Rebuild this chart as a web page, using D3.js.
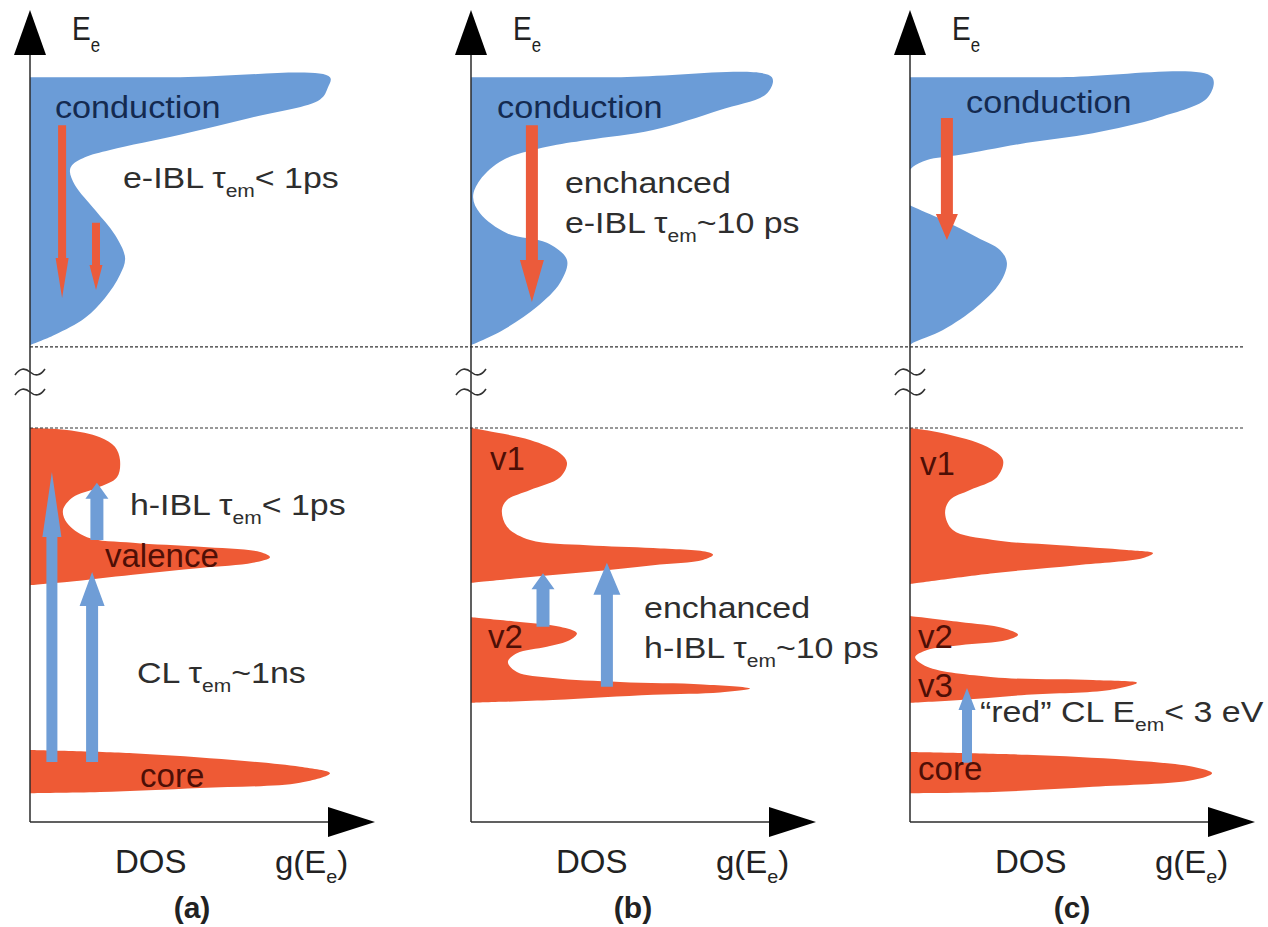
<!DOCTYPE html>
<html>
<head>
<meta charset="utf-8">
<script src="https://cdn.jsdelivr.net/npm/d3@7"></script>
<style>
  html, body { margin: 0; padding: 0; background: #fff; }
  svg { display: block; }
  text { font-family: "Liberation Sans", Arial, sans-serif; }
</style>
</head>
<body>
<div id="chart"></div>
<script>
// ---------------- DATA (g = DOS units, E = energy units) ----------------
const panels = ["a", "b", "c"];
const panelTitles = ["(a)", "(b)", "(c)"];
const axisLabelY = "E_{e}";
const axisLabelX = "g(E_{e})";
const axisNameX = "DOS";

// panel (a)
const condA = [[0,93.1],[50,93.1],[100,93.1],[99.3,91.8],[96.7,90.3],[73.3,88],[50,85.9],[26.7,84],[18.3,83.1],[14,82.1],[13.3,81.3],[15,79.6],[21.7,76.5],[28.3,73.4],[31.7,70.5],[30,68.4],[25,65.5],[18.3,63],[8.3,60.9],[0,59.6]];
const valA  = [[0,49.25],[12.3,49],[23.3,48.1],[28.3,46.9],[30,45.25],[29,43.1],[22.3,41.75],[14.3,40.6],[11,39],[12.3,37.4],[19,35.6],[34.3,34.9],[56.7,34.4],[76.7,33.75],[80,33.1],[74.3,32.4],[56.7,31.75],[34.3,30.9],[12.3,30],[0,29.6]];
const coreA = [[0,9],[34.3,8.6],[67.7,7.75],[90,6.9],[100,6.1],[90,4.9],[56.7,4.25],[23.3,3.75],[0,3.6]];

// panel (b)
const condB = [[0,93.1],[50,93.1],[100.3,93.1],[98.7,91.1],[83,89],[60.7,86.5],[38.7,85.25],[25.3,84.4],[10.7,82.75],[3,80.25],[0.7,78.1],[3,76.1],[12,73.6],[25.3,72.4],[32,70.25],[29.7,67.4],[22,64.4],[10.7,61.5],[0,59.6]];
const v1B   = [[0,49.25],[5.3,48.9],[19.7,47.75],[29.7,46.1],[32,44.9],[29.7,43.1],[19.7,41.5],[12,40.25],[10.3,39],[12,36.9],[19.7,35.25],[38.7,34.6],[60.7,34.25],[78.7,33.75],[80.7,33.4],[77.3,32.75],[60.7,32.1],[38.7,31.25],[16.3,30.5],[0,29.9]];
const v2B   = [[0,25.6],[16.3,25],[29.7,24.4],[35.3,23.6],[33,22.75],[25.3,21.9],[15.3,21.1],[12.3,20],[15.3,18.75],[27.3,18],[49.7,17.5],[77.3,17.2],[93,16.7],[83,16.2],[60.7,15.9],[27.3,15.25],[0,14.9]];

// panel (c)
const condC1 = [[0,93.1],[50,93.1],[100.7,93.1],[99.3,90.6],[83.3,88.1],[61,86.1],[39,84.9],[16.7,83.4],[5.7,82.75],[1,81.9],[0,81.5]];
const condC2 = [[0,77.1],[1,76.9],[11,75.25],[22.3,73.1],[30,71.5],[32.3,69.9],[30,67.4],[22.3,64.4],[11,61.5],[1,59.9],[0,59.6]];
const v1C    = [[0,49.25],[11,48.6],[25.7,46.9],[31,45.25],[29,43.1],[20,41.5],[13.3,40.25],[11.7,38.6],[14.3,36.5],[27.7,35.25],[50,34.6],[72.3,34],[81,33.6],[77.7,33],[55.7,32.1],[27.7,31.1],[0,29.75]];
const v23C   = [[0,25.75],[16.7,25],[31,24.25],[36,23.4],[32.3,22.75],[16.7,22.1],[5.7,21.5],[1.7,20.6],[5.7,19.4],[27.7,18.1],[61,17.75],[75.7,17.4],[66.7,16.5],[39,15.9],[16.7,15.25],[0,14.9]];
const coreC  = [[0,8.75],[39,8.4],[72.3,7.75],[94.3,6.9],[100.7,6.1],[94.3,5.25],[61,4.4],[27.7,3.75],[0,3.6]];

const bands = [
  {panel:"a", type:"cond", pts:condA},
  {panel:"a", type:"val",  pts:valA},
  {panel:"a", type:"val",  pts:coreA},
  {panel:"b", type:"cond", pts:condB},
  {panel:"b", type:"val",  pts:v1B},
  {panel:"b", type:"val",  pts:v2B},
  {panel:"c", type:"cond", pts:condC1},
  {panel:"c", type:"cond", pts:condC2},
  {panel:"c", type:"val",  pts:v1C},
  {panel:"c", type:"val",  pts:v23C},
  {panel:"c", type:"val",  pts:coreC}
];

// transitions: g position, start energy, end (tip) energy
const arrows = [
  {panel:"a", type:"e-thin",  g:10.7, from:87.1, to:65.5},
  {panel:"a", type:"e-short", g:22,   from:74.9, to:66.5},
  {panel:"b", type:"e-thick", g:20.3, from:87.1, to:65},
  {panel:"c", type:"e-mid",   g:12.3, from:88,   to:72.75},
  {panel:"a", type:"h-long",  g:7.3,  from:7.5,  to:43.75},
  {panel:"a", type:"h-small", g:22.3, from:35.25,to:42.4},
  {panel:"a", type:"h-cl",    g:20.7, from:7.5,  to:31.25},
  {panel:"b", type:"h-small", g:24,   from:24.4, to:31.1},
  {panel:"b", type:"h-big",   g:45.3, from:16.9, to:32.4},
  {panel:"c", type:"h-red",   g:19,   from:7.4,  to:16.75}
];

const labels = [
  {panel:"a", g:8.3,  E:88,    text:"conduction", type:"cond"},
  {panel:"a", g:31,   E:79.25, text:"e-IBL τ_{em}< 1ps", type:"note"},
  {panel:"a", g:33.3, E:38.4,  text:"h-IBL τ_{em}< 1ps", type:"note"},
  {panel:"a", g:25,   E:31.9,  text:"valence", type:"val"},
  {panel:"a", g:35.7, E:17.4,  text:"CL τ_{em}~1ns", type:"note"},
  {panel:"a", g:36.7, E:4.4,   text:"core", type:"val"},
  {panel:"b", g:8.7,  E:88,    text:"conduction", type:"cond"},
  {panel:"b", g:31.3, E:78.6,  text:"enchanced", type:"note"},
  {panel:"b", g:31.3, E:73.6,  text:"e-IBL τ_{em}~10 ps", type:"note"},
  {panel:"b", g:6.3,  E:44,    text:"v1", type:"val"},
  {panel:"b", g:5.7,  E:21.75, text:"v2", type:"val"},
  {panel:"b", g:57.7, E:25.5,  text:"enchanced", type:"note"},
  {panel:"b", g:57.7, E:20.5,  text:"h-IBL τ_{em}~10 ps", type:"note"},
  {panel:"c", g:18.7, E:88.6,  text:"conduction", type:"cond"},
  {panel:"c", g:3.3,  E:43.4,  text:"v1", type:"val"},
  {panel:"c", g:2.7,  E:21.75, text:"v2", type:"val"},
  {panel:"c", g:2.7,  E:15.6,  text:"v3", type:"val"},
  {panel:"c", g:2.7,  E:5.25,  text:"core", type:"val"},
  {panel:"c", g:23.3, E:12.5,  text:"“red” CL E_{em}< 3 eV", type:"note"}
];

const breakLevels = [59.4, 49.25];   // dotted lines bounding the axis break
const breakMarks = [56.25, 53.75];   // tilde marks on the energy axis

// ---------------- STYLES / LAYOUT ----------------
const W = 1268, H = 927;
const colors = { cond:"#6b9cd7", val:"#ee5a35", eArrow:"#eb5b3b", hArrow:"#6f9dd6",
                 condText:"#142a50", valText:"#4e0f06", note:"#2e2e2e", axis:"#2b2b2b" };
const arrowStyle = {
  "e-thin":  {sw:8,  hw:13, hl:40},
  "e-short": {sw:8,  hw:13, hl:25},
  "e-thick": {sw:12, hw:24, hl:42},
  "e-mid":   {sw:12, hw:22, hl:26},
  "h-long":  {sw:11, hw:19, hl:65},
  "h-small": {sw:13, hw:23, hl:16},
  "h-cl":    {sw:12, hw:25, hl:34},
  "h-big":   {sw:12, hw:27, hl:32},
  "h-red":   {sw:10, hw:17, hl:22}
};
const textStyle = {
  cond: {size:32, fill:colors.condText, sx:1.07},
  val:  {size:33, fill:colors.valText, sx:1.0},
  note: {size:29, fill:colors.note, sx:1.17}
};

const panelX = d3.scaleOrdinal().domain(panels).range([30, 471, 910]);
const y = d3.scaleLinear().domain([0, 100]).range([822, 22]);
const xFor = p => d3.scaleLinear().domain([0, 115]).range([panelX(p), panelX(p) + 345]);

const svg = d3.select("#chart").append("svg").attr("width", W).attr("height", H);
svg.append("rect").attr("width", W).attr("height", H).attr("fill", "#fff");

// text helper with subscript markup _{..}
function richText(g, x, yy, str, size, fill, sx, anchor, weight, subScale, shiftF) {
  const t = g.append("text")
    .attr("transform", `translate(${x},${yy}) scale(${sx},1)`)
    .attr("font-size", size).attr("fill", fill)
    .attr("text-anchor", anchor).attr("font-weight", weight || "normal");
  const parts = str.split(/(_\{[^}]*\})/).filter(s => s.length);
  const sub = subScale || 0.62;
  const shift = size * (shiftF || 0.32);
  let down = false;
  parts.forEach(pt => {
    const m = pt.match(/^_\{([^}]*)\}$/);
    if (m) {
      t.append("tspan").attr("font-size", size * sub).attr("dy", shift).text(m[1]);
      down = true;
    } else {
      const ts = t.append("tspan").text(pt);
      if (down) { ts.attr("dy", -shift); down = false; }
    }
  });
  return t;
}

// bands
const gBands = svg.append("g");
bands.forEach(b => {
  const x = xFor(b.panel);
  const line = d3.line().x(d => x(d[0])).y(d => y(d[1])).curve(d3.curveCatmullRom.alpha(0.5));
  gBands.append("path").attr("d", line(b.pts) + "Z")
    .attr("fill", b.type === "cond" ? colors.cond : colors.val);
});

// dotted break lines
breakLevels.forEach(E => {
  svg.append("line").attr("x1", panelX("a")).attr("x2", 1245)
    .attr("y1", y(E)).attr("y2", y(E))
    .attr("stroke", "#333").attr("stroke-width", 1.2).attr("stroke-dasharray", "3,2");
});

// axes
panels.forEach((p, i) => {
  const x = xFor(p);
  const x0 = x(0), y0 = y(0);
  const g = svg.append("g");
  const topY = 10, arrowBase = 55;
  g.append("line").attr("x1", x0).attr("x2", x0).attr("y1", y0).attr("y2", arrowBase)
    .attr("stroke", colors.axis).attr("stroke-width", 1.5);
  g.append("path").attr("d", `M${x0},${topY}L${x0+16},${arrowBase}L${x0-16},${arrowBase}Z`).attr("fill", "#000");
  const tipX = x(115);
  g.append("line").attr("x1", x0).attr("x2", tipX - 45).attr("y1", y0).attr("y2", y0)
    .attr("stroke", colors.axis).attr("stroke-width", 1.5);
  g.append("path").attr("d", `M${tipX},${y0}L${tipX-47},${y0-15}L${tipX-47},${y0+15}Z`).attr("fill", "#000");
  // break tildes
  breakMarks.forEach(E => {
    const yy = y(E);
    g.append("path").attr("d", `M${x0-15},${yy+3}Q${x0-8},${yy-7} ${x0},${yy}Q${x0+8},${yy+7} ${x0+15},${yy-3}`)
      .attr("fill", "none").attr("stroke", "#333").attr("stroke-width", 1.6);
  });
  // axis labels
  richText(g, x0 + 42, 40, axisLabelY, 33, "#222", 0.85, "start", "normal", 0.6, 0.36);
  richText(g, x0 + 85, 873, axisNameX, 33, "#222", 1, "start", "normal");
  richText(g, x0 + 245, 873, axisLabelX, 32, "#222", 1.03, "start", "normal", 0.6);
  richText(g, x0 + 162, 918, panelTitles[i], 30, "#222", 1, "middle", "bold");
});

// arrows
function arrowPath(xc, yStart, yTip, st) {
  const dir = yTip < yStart ? 1 : -1; // 1 = upward
  const yBase = yTip + dir * st.hl;
  const s = st.sw / 2, h = st.hw / 2;
  return `M${xc-s},${yStart}L${xc-s},${yBase}L${xc-h},${yBase}L${xc},${yTip}L${xc+h},${yBase}L${xc+s},${yBase}L${xc+s},${yStart}Z`;
}
arrows.forEach(a => {
  const x = xFor(a.panel);
  const st = arrowStyle[a.type];
  svg.append("path").attr("d", arrowPath(x(a.g), y(a.from), y(a.to), st))
    .attr("fill", a.type.startsWith("e") ? colors.eArrow : colors.hArrow);
});

labels.forEach(l => {
  const x = xFor(l.panel);
  const st = textStyle[l.type];
  richText(svg, x(l.g), y(l.E), l.text, st.size, st.fill, st.sx, "start", "normal");
});
</script>
</body>
</html>
